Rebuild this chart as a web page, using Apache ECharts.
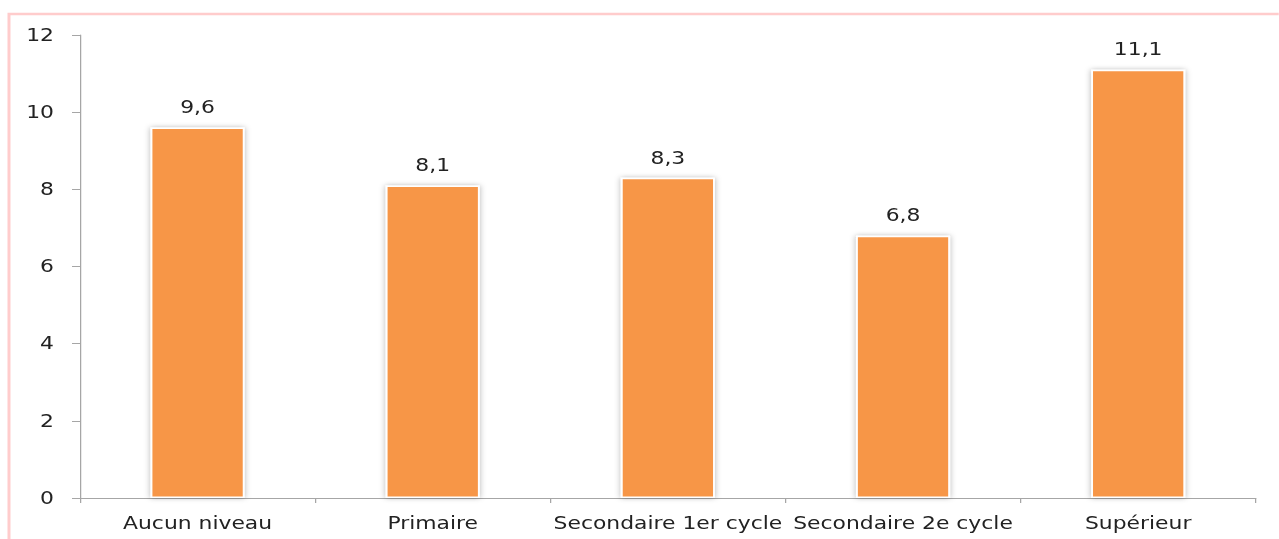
<!DOCTYPE html>
<html>
<head>
<meta charset="utf-8">
<script src="https://cdn.jsdelivr.net/npm/echarts@6/dist/echarts.min.js"></script>
<style>
  html, body { margin: 0; padding: 0; background: #fff; overflow: hidden; }
  #wrap { width: 1279px; height: 539px; overflow: hidden; position: relative; }
  #chart { width: 1023.2px; height: 539px; transform: scaleX(1.25); transform-origin: 0 0; }
</style>
</head>
<body>
<div id="wrap"><div id="chart"></div></div>
<script>
const categories = ['Aucun niveau', 'Primaire', 'Secondaire 1er cycle', 'Secondaire 2e cycle', 'Supérieur'];
const values = [9.6, 8.1, 8.3, 6.8, 11.1];
const yTicks = [0, 2, 4, 6, 8, 10, 12];

const chart = echarts.init(document.getElementById('chart'), null, { renderer: 'svg' });
const font = 'DejaVu Sans, Verdana, sans-serif';
chart.setOption({
  backgroundColor: '#fff',
  animation: false,
  graphic: [{
    type: 'rect',
    shape: { x: 7.2, y: 14, width: 2000, height: 1000 },
    style: { fill: 'none', stroke: '#ffcccc', lineWidth: 2.4 },
    silent: true
  }],
  grid: { left: 64, right: 18.4, top: 35, bottom: 41 },
  xAxis: {
    type: 'category',
    data: categories,
    axisLine: { lineStyle: { color: '#a6a6a6', width: 1 } },
    axisTick: { show: true, length: 5, lineStyle: { color: '#a6a6a6' } },
    axisLabel: { color: '#222', fontFamily: font, fontSize: 17.5, margin: 16, interval: 0 }
  },
  yAxis: {
    type: 'value',
    min: yTicks[0],
    max: yTicks[yTicks.length - 1],
    interval: 2,
    axisLine: { show: true, lineStyle: { color: '#a6a6a6', width: 1 } },
    axisTick: { show: true, length: 6.4, lineStyle: { color: '#a6a6a6' } },
    splitLine: { show: false },
    axisLabel: { color: '#222', fontFamily: font, fontSize: 17.5, margin: 20.8 }
  },
  series: [{
    type: 'bar',
    data: values,
    barWidth: '40%',
    itemStyle: {
      color: '#f79646',
      borderColor: '#ffffff',
      borderWidth: 1.5,
      shadowBlur: 5,
      shadowColor: 'rgba(0,0,0,0.3)'
    },
    label: {
      show: true,
      position: 'top',
      distance: 11,
      color: '#222',
      fontFamily: font,
      fontSize: 17.5,
      formatter: p => String(p.value).replace('.', ',')
    }
  }]
});
</script>
</body>
</html>
